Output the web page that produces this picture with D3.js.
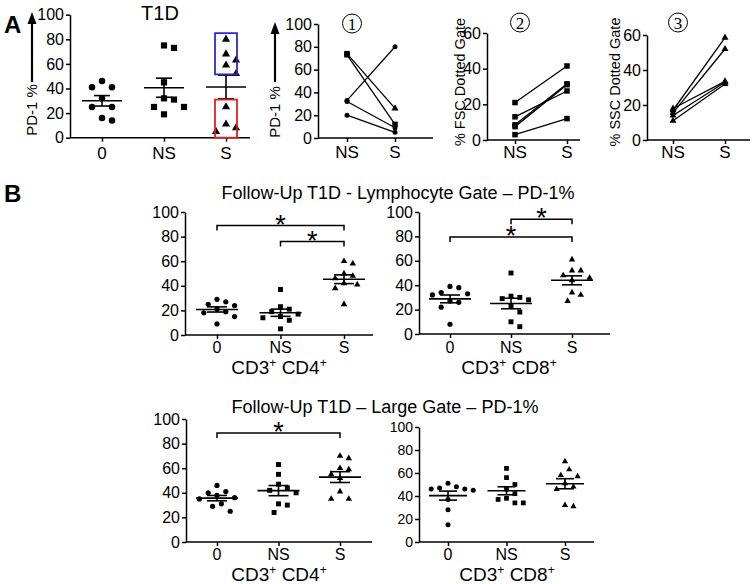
<!DOCTYPE html>
<html><head><meta charset="utf-8">
<script src="https://cdn.jsdelivr.net/npm/d3@7/dist/d3.min.js"></script>
<style>body{margin:0;background:#fff}svg{display:block}</style>
</head><body>
<svg id="c" width="755" height="584"></svg>
<script>
// ---------------- DATA ----------------
const groups = ["0", "NS", "S"];
const pairCats = ["NS", "S"];
const ticks100 = [0, 20, 40, 60, 80, 100];
const ticks60 = [0, 20, 40, 60];

// Panel A – T1D PD-1 %
const A_0 = [46, 41, 41, 32, 25, 25, 16, 14];
const A_NS = [75, 73, 45, 32, 31, 25, 25, 19];
const A_S = [80, 68, 63, 59, 52, 25, 11, 8, 5];
const A_boxBlue = [51.5, 85];
const A_boxRed = [0, 31];

// Panel A paired plots
const A1_NS = [74, 73, 33, 32, 20];
const A1_S = [26, 12, 80, 9, 5];
const A1_shapeNS = ["square", "square", "circle", "circle", "circle"];
const A1_shapeS = ["triangle", "square", "circle", "circle", "circle"];
const A2_NS = [21, 13, 8.5, 7.5, 3];
const A2_S = [41.5, 27.5, 31.5, 31, 12];
const A3_NS = [17, 15.5, 18, 14, 11];
const A3_S = [58.5, 52, 33.5, 33, 32];

// Panel B – Lymphocyte gate
const BL4_0 = [29, 27, 25, 24, 21, 19, 18, 15, 9];
const BL4_NS = [37, 23, 21, 19, 17, 15, 14, 12, 5];
const BL4_S = [60, 58, 50, 48, 46, 42, 41, 38, 25];
const BL8_0 = [39, 38, 34, 33, 32, 27, 26, 22, 8];
const BL8_NS = [50, 31, 30, 29, 28, 23, 18, 10, 6];
const BL8_S = [61, 52, 52, 48, 46, 44, 34, 32, 27];
// Panel B – Large gate
const BG4_0 = [46, 41, 40, 38, 36, 35, 31, 29, 25];
const BG4_NS = [63, 55, 47, 44, 42, 40, 31, 30, 24];
const BG4_S = [70, 68, 60, 59, 55, 52, 41, 35, 35];
const BG8_0 = [51, 48, 47, 46, 46, 45, 37, 28, 15];
const BG8_NS = [64, 56, 50, 46, 42, 38, 37, 34, 34];
const BG8_S = [70, 63, 58, 57, 51, 48, 46, 32, 31];

// significance brackets [from, to, level]
const sigBL4 = [["0", "S", 89], ["NS", "S", 76]];
const sigBL8 = [["NS", "S", 94], ["0", "S", 79.5]];
const sigBG4 = [["0", "S", 88.6]];

// ---------------- DRAWING ----------------
const FONT = '"Liberation Sans", Arial, Helvetica, sans-serif';
const svg = d3.select("#c");
const shapeSym = {circle: d3.symbolCircle, square: d3.symbolSquare, triangle: d3.symbolTriangle};
const groupShape = ["circle", "square", "triangle"];

function txt(g, x, y, s, fs, opts = {}) {
  const t = g.append("text").attr("x", x).attr("y", y).attr("font-family", opts.family || FONT)
    .attr("font-size", fs).attr("text-anchor", opts.anchor || "middle").attr("fill", "#000")
    .attr("font-weight", opts.weight || "normal");
  if (opts.rotate) t.attr("transform", `rotate(-90,${x},${y})`);
  t.text(s);
  return t;
}

function yAxis(x0, y, tv, fs) {
  const g = svg.append("g").attr("transform", `translate(${x0},0)`)
    .call(d3.axisLeft(y).tickValues(tv).tickSize(4).tickSizeOuter(0).tickPadding(2));
  g.selectAll("text").attr("font-size", fs).attr("font-family", FONT).attr("fill", "#000");
  g.selectAll("line,path").attr("stroke", "#000").attr("stroke-width", 1.5);
  return g;
}
function xAxis(x0, x1, x, y0) {
  svg.append("line").attr("x1", x0).attr("x2", x1).attr("y1", y0).attr("y2", y0)
    .attr("stroke", "#000").attr("stroke-width", 1.5);
  const g = svg.append("g").attr("transform", `translate(0,${y0})`)
    .call(d3.axisBottom(x).tickSize(4).tickSizeOuter(0).tickFormat(""));
  g.select(".domain").remove();
  g.selectAll("line").attr("stroke", "#000").attr("stroke-width", 1.5);
}
function catLabels(x, cats, base, fs) {
  cats.forEach(c => txt(svg, x(c), base, c, fs));
}

function swarm(vals, y, cx, d) {
  const idx = vals.map((v, i) => i).sort((a, b) => vals[b] - vals[a]);
  const placed = [], xs = new Array(vals.length);
  for (const i of idx) {
    const py = y(vals[i]);
    let off = 0;
    for (let t = 0; t < 60; t++) {
      off = t === 0 ? 0 : (t % 2 ? 1 : -1) * Math.ceil(t / 2) * d / 2;
      if (placed.every(p => Math.hypot(p.x - off, p.y - py) >= d)) break;
    }
    placed.push({x: off, y: py});
    xs[i] = cx + off;
  }
  return xs;
}

function marker(g, shape, x, y, size) {
  const area = shape === "circle" ? Math.PI * size * size / 4 :
               shape === "square" ? size * size : size * size * Math.sqrt(3) / 4;
  g.append("path").attr("d", d3.symbol(shapeSym[shape], area)())
    .attr("transform", `translate(${x},${y})`).attr("fill", "#000");
}

function dotPlot(L, series) {
  const y = d3.scaleLinear().domain([0, 100]).range([L.yBot, L.yTop]);
  const x = d3.scalePoint().domain(groups).range(L.cx);
  yAxis(L.x0, y, ticks100, L.fsTick);
  xAxis(L.x0, L.x1, x, L.yBot);
  catLabels(x, groups, L.catBase, L.fsCat);
  const g = svg.append("g");
  series.forEach((vals, k) => {
    const cx = x(groups[k]);
    const xs = swarm(vals, y, cx, L.msize + L.gap);
    vals.forEach((v, i) => marker(g, groupShape[k], xs[i], y(v), groupShape[k] === "circle" ? L.msize : L.msize * (groupShape[k] === "triangle" ? 1.25 : 0.95)));
    const m = d3.mean(vals), se = d3.deviation(vals) / Math.sqrt(vals.length);
    const ln = (x1, y1, x2, y2) => g.append("line").attr("x1", x1).attr("y1", y1).attr("x2", x2).attr("y2", y2)
      .attr("stroke", "#000").attr("stroke-width", 1.6);
    ln(cx - L.meanHalf, y(m), cx + L.meanHalf, y(m));
    ln(cx, y(m - se), cx, y(m + se));
    ln(cx - L.capHalf, y(m - se), cx + L.capHalf, y(m - se));
    ln(cx - L.capHalf, y(m + se), cx + L.capHalf, y(m + se));
  });
  return {x, y, g};
}

function brackets(P, sig) {
  sig.forEach(([a, b, lv]) => {
    const xa = P.x(a), xb = P.x(b), yy = P.y(lv);
    svg.append("path").attr("d", `M${xa},${yy + 5}V${yy}H${xb}V${yy + 5}`)
      .attr("fill", "none").attr("stroke", "#000").attr("stroke-width", 1.5);
    txt(svg, (xa + xb) / 2, yy + 8, "*", 27);
  });
}

function pairPlot(L, ns, s, shNS, shS, max, tv) {
  const y = d3.scaleLinear().domain([0, max]).range([L.yBot, L.yTop]);
  const x = d3.scalePoint().domain(pairCats).range(L.cx);
  yAxis(L.x0, y, tv, L.fsTick);
  xAxis(L.x0, L.x1, x, L.yBot);
  catLabels(x, pairCats, L.catBase, L.fsCat);
  const g = svg.append("g");
  ns.forEach((v, i) => {
    g.append("line").attr("x1", x("NS")).attr("y1", y(v)).attr("x2", x("S")).attr("y2", y(s[i]))
      .attr("stroke", "#000").attr("stroke-width", 1.3);
  });
  ns.forEach((v, i) => {
    const a = shNS[i], b = shS[i];
    marker(g, a, x("NS"), y(v), a === "triangle" ? 7 : a === "square" ? 5.5 : 5);
    marker(g, b, x("S"), y(s[i]), b === "triangle" ? 7 : b === "square" ? 5.5 : 5);
  });
  // circled number
  svg.append("circle").attr("cx", L.num[0]).attr("cy", L.num[1]).attr("r", 9.5)
    .attr("fill", "none").attr("stroke", "#000").attr("stroke-width", 1);
  txt(svg, L.num[0], L.num[1] + 6, L.num[2], 17, {family: '"Liberation Serif", "DejaVu Serif", serif'});
  return {x, y};
}

function arrowLabel(x, yTip, yEnd, label, yLab) {
  svg.append("line").attr("x1", x).attr("x2", x).attr("y1", yTip + 8).attr("y2", yEnd)
    .attr("stroke", "#000").attr("stroke-width", 2.2);
  svg.append("path").attr("d", `M${x},${yTip}L${x - 4.5},${yTip + 12}L${x + 4.5},${yTip + 12}Z`).attr("fill", "#000");
  txt(svg, x + 5, yLab, label, 15, {rotate: true});
}

// ---- Panel A ----
txt(svg, 4, 33, "A", 24, {anchor: "start", weight: "bold"});
txt(svg, 160, 20, "T1D", 20);
arrowLabel(32, 12, 82, "PD-1 %", 110);
const PA = dotPlot({x0: 70, x1: 250, cx: [102, 226], yTop: 14.7, yBot: 137.7, fsTick: 16, fsCat: 17,
  catBase: 159, msize: 6.5, gap: 3.5, meanHalf: 20, capHalf: 8}, [A_0, A_NS, A_S]);
// highlight boxes
[[A_boxBlue, "#2b2bd0"], [A_boxRed, "#e02020"]].forEach(([bx, col]) => {
  const cx = PA.x("S");
  svg.append("rect").attr("x", cx - 11).attr("width", 22).attr("y", PA.y(bx[1]))
    .attr("height", PA.y(bx[0]) - PA.y(bx[1])).attr("fill", "none").attr("stroke", col).attr("stroke-width", 1.8);
});

arrowLabel(275, 22, 82, "PD-1 %", 112);
pairPlot({x0: 318, x1: 433, cx: [347, 395], yTop: 24, yBot: 138, fsTick: 16, fsCat: 17, catBase: 158,
  num: [352, 23.5, "1"]}, A1_NS, A1_S, A1_shapeNS, A1_shapeS, 100, ticks100);

txt(svg, 465, 82, "% FSC Dotted Gate", 14.5, {rotate: true});
pairPlot({x0: 487, x1: 580, cx: [515, 567], yTop: 33, yBot: 140, fsTick: 16, fsCat: 17, catBase: 158,
  num: [520, 22.5, "2"]}, A2_NS, A2_S, A2_NS.map(() => "square"), A2_S.map(() => "square"), 60, ticks60);

txt(svg, 620, 82, "% SSC Dotted Gate", 14.5, {rotate: true});
pairPlot({x0: 647, x1: 750, cx: [673, 725], yTop: 35, yBot: 140, fsTick: 16, fsCat: 17, catBase: 158,
  num: [678, 22.5, "3"]}, A3_NS, A3_S, A3_NS.map(() => "triangle"), A3_S.map(() => "triangle"), 60, ticks60);

// ---- Panel B ----
txt(svg, 4, 202, "B", 24, {anchor: "start", weight: "bold"});
txt(svg, 398, 199, "Follow-Up T1D - Lymphocyte Gate \u2013 PD-1%", 18);
txt(svg, 385, 413, "Follow-Up T1D \u2013 Large Gate \u2013 PD-1%", 18);

function cdLabel(x, y, n) {
  const t = svg.append("text").attr("x", x).attr("y", y).attr("font-family", FONT).attr("font-size", 19)
    .attr("text-anchor", "middle").attr("fill", "#000");
  t.append("tspan").text("CD3");
  t.append("tspan").attr("font-size", 12).attr("dy", -7).text("+");
  t.append("tspan").attr("dy", 7).text(" CD" + n);
  t.append("tspan").attr("font-size", 12).attr("dy", -7).text("+");
}

const P1 = dotPlot({x0: 185, x1: 373, cx: [217, 344], yTop: 212, yBot: 335, fsTick: 16, fsCat: 16,
  catBase: 353, msize: 5.2, gap: 3.6, meanHalf: 21, capHalf: 10}, [BL4_0, BL4_NS, BL4_S]);
brackets(P1, sigBL4);
cdLabel(279, 374, "4");

const P2 = dotPlot({x0: 419, x1: 610, cx: [450, 572], yTop: 212, yBot: 334, fsTick: 16, fsCat: 16,
  catBase: 353, msize: 5.2, gap: 3.6, meanHalf: 21, capHalf: 10}, [BL8_0, BL8_NS, BL8_S]);
brackets(P2, sigBL8);
cdLabel(509, 374, "8");

const P3 = dotPlot({x0: 186, x1: 372, cx: [217, 340], yTop: 419, yBot: 542, fsTick: 16, fsCat: 16,
  catBase: 560, msize: 5.2, gap: 3.6, meanHalf: 21, capHalf: 10}, [BG4_0, BG4_NS, BG4_S]);
brackets(P3, sigBG4);
cdLabel(279, 581, "4");

dotPlot({x0: 419, x1: 594, cx: [448, 565], yTop: 427, yBot: 542, fsTick: 14, fsCat: 16,
  catBase: 560, msize: 5, gap: 3.4, meanHalf: 19, capHalf: 9}, [BG8_0, BG8_NS, BG8_S]);
cdLabel(507, 581, "8");
</script>
</body></html>
